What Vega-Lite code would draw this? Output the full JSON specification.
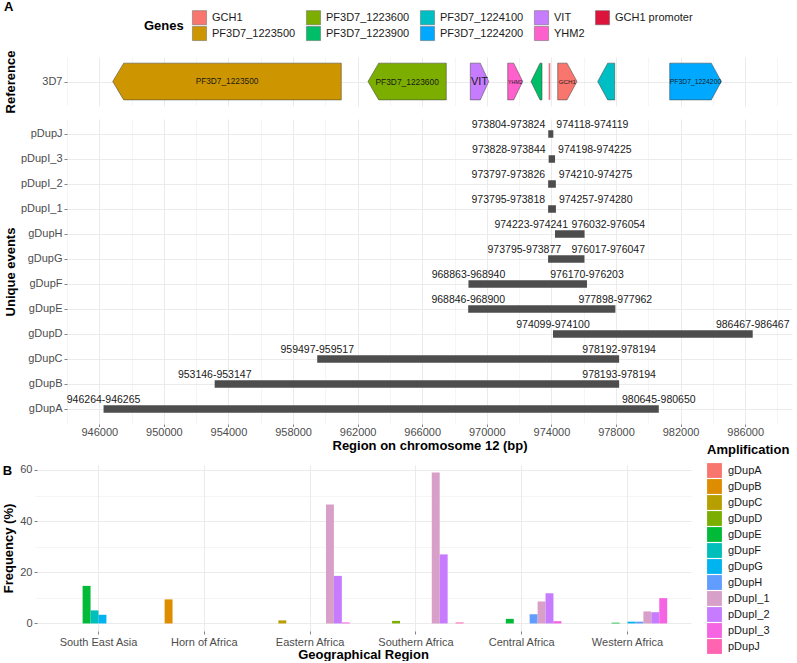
{
  "$schema": "https://vega.github.io/schema/vega-lite/v6.json",
  "padding": {"left": 2, "top": 1, "right": 2, "bottom": 0},
  "config": {
    "font": "Liberation Sans",
    "view": {"stroke": null},
    "axis": {"domain": false, "gridColor": "#EBEBEB", "tickColor": "#333333", "tickWidth": 0.6, "tickSize": 3, "labelFontSize": 11, "labelColor": "#4D4D4D", "titleFontSize": 13, "titleFontWeight": "bold", "titleColor": "#000000", "labelPadding": 2},
    "legend": {"labelFontSize": 11, "labelColor": "#1A1A1A", "titleFontSize": 13, "titleFontWeight": "bold", "titleColor": "#000000"},
    "title": {"fontSize": 13, "fontWeight": "bold", "color": "#000000"}
  },
  "datasets": {
    "geneShapes": [
      {"gene": "PF3D7_1223500", "bp": 946830, "top": 0, "bottom": 0},
      {"gene": "PF3D7_1223500", "bp": 947511, "top": 0.75, "bottom": -0.75},
      {"gene": "PF3D7_1223500", "bp": 960987, "top": 0.75, "bottom": -0.75},
      {"gene": "PF3D7_1223600", "bp": 962641, "top": 0, "bottom": 0},
      {"gene": "PF3D7_1223600", "bp": 963304, "top": 0.75, "bottom": -0.75},
      {"gene": "PF3D7_1223600", "bp": 967490, "top": 0.75, "bottom": -0.75},
      {"gene": "VIT", "bp": 968977, "top": 0.75, "bottom": -0.75},
      {"gene": "VIT", "bp": 969596, "top": 0.75, "bottom": -0.75},
      {"gene": "VIT", "bp": 970116, "top": 0, "bottom": 0},
      {"gene": "YHM2", "bp": 971293, "top": 0.75, "bottom": -0.75},
      {"gene": "YHM2", "bp": 971665, "top": 0.75, "bottom": -0.75},
      {"gene": "YHM2", "bp": 972222, "top": 0, "bottom": 0},
      {"gene": "PF3D7_1223900", "bp": 972736, "top": 0, "bottom": 0},
      {"gene": "PF3D7_1223900", "bp": 973293, "top": 0.75, "bottom": -0.75},
      {"gene": "PF3D7_1223900", "bp": 973417, "top": 0.75, "bottom": -0.75},
      {"gene": "GCH1", "bp": 974389, "top": 0.75, "bottom": -0.75},
      {"gene": "GCH1", "bp": 974965, "top": 0.75, "bottom": -0.75},
      {"gene": "GCH1", "bp": 975585, "top": 0, "bottom": 0},
      {"gene": "PF3D7_1224100", "bp": 976866, "top": 0, "bottom": 0},
      {"gene": "PF3D7_1224100", "bp": 977486, "top": 0.75, "bottom": -0.75},
      {"gene": "PF3D7_1224100", "bp": 977919, "top": 0.75, "bottom": -0.75},
      {"gene": "PF3D7_1224200", "bp": 981326, "top": 0.75, "bottom": -0.75},
      {"gene": "PF3D7_1224200", "bp": 983902, "top": 0.75, "bottom": -0.75},
      {"gene": "PF3D7_1224200", "bp": 984521, "top": 0, "bottom": 0}
    ],
    "geneLabels": [
      {"gene": "PF3D7_1223500", "mid": 953909},
      {"gene": "PF3D7_1223600", "mid": 965066},
      {"gene": "VIT", "mid": 969547},
      {"gene": "YHM2", "mid": 971758},
      {"gene": "GCH1", "mid": 974987},
      {"gene": "PF3D7_1224200", "mid": 982924}
    ],
    "promoter": [
      {"gene": "GCH1 promoter", "start": 973830, "end": 973930}
    ],
    "events": [
      {"event": "gDupA", "start": 946264, "end": 980650, "start_label": "946264-946265", "end_label": "980645-980650"},
      {"event": "gDupB", "start": 953146, "end": 978194, "start_label": "953146-953147", "end_label": "978193-978194"},
      {"event": "gDupC", "start": 959497, "end": 978194, "start_label": "959497-959517", "end_label": "978192-978194"},
      {"event": "gDupD", "start": 974099, "end": 986467, "start_label": "974099-974100", "end_label": "986467-986467"},
      {"event": "gDupE", "start": 968846, "end": 977962, "start_label": "968846-968900", "end_label": "977898-977962"},
      {"event": "gDupF", "start": 968863, "end": 976203, "start_label": "968863-968940", "end_label": "976170-976203"},
      {"event": "gDupG", "start": 973795, "end": 976047, "start_label": "973795-973877", "end_label": "976017-976047"},
      {"event": "gDupH", "start": 974223, "end": 976054, "start_label": "974223-974241", "end_label": "976032-976054"},
      {"event": "pDupI_1", "start": 973795, "end": 974280, "start_label": "973795-973818", "end_label": "974257-974280"},
      {"event": "pDupI_2", "start": 973797, "end": 974275, "start_label": "973797-973826", "end_label": "974210-974275"},
      {"event": "pDupI_3", "start": 973828, "end": 974225, "start_label": "973828-973844", "end_label": "974198-974225"},
      {"event": "pDupJ", "start": 973804, "end": 974119, "start_label": "973804-973824", "end_label": "974118-974119"}
    ],
    "freq": [
      {"region": "South East Asia", "amp": "gDupE", "freq": 14.7},
      {"region": "South East Asia", "amp": "gDupF", "freq": 5.1},
      {"region": "South East Asia", "amp": "gDupG", "freq": 3.4},
      {"region": "Horn of Africa", "amp": "gDupB", "freq": 9.4},
      {"region": "Eastern Africa", "amp": "gDupC", "freq": 1.2},
      {"region": "Eastern Africa", "amp": "pDupI_1", "freq": 46.5},
      {"region": "Eastern Africa", "amp": "pDupI_2", "freq": 18.6},
      {"region": "Eastern Africa", "amp": "pDupI_3", "freq": 0.4},
      {"region": "Southern Africa", "amp": "gDupD", "freq": 1.0},
      {"region": "Southern Africa", "amp": "pDupI_1", "freq": 59.0},
      {"region": "Southern Africa", "amp": "pDupI_2", "freq": 27.0},
      {"region": "Southern Africa", "amp": "pDupJ", "freq": 0.4},
      {"region": "Central Africa", "amp": "gDupE", "freq": 1.8},
      {"region": "Central Africa", "amp": "gDupH", "freq": 3.6},
      {"region": "Central Africa", "amp": "pDupI_1", "freq": 8.6},
      {"region": "Central Africa", "amp": "pDupI_2", "freq": 11.8},
      {"region": "Central Africa", "amp": "pDupI_3", "freq": 0.9},
      {"region": "Western Africa", "amp": "gDupE", "freq": 0.3},
      {"region": "Western Africa", "amp": "gDupG", "freq": 0.7},
      {"region": "Western Africa", "amp": "gDupH", "freq": 0.7},
      {"region": "Western Africa", "amp": "pDupI_1", "freq": 4.7},
      {"region": "Western Africa", "amp": "pDupI_2", "freq": 4.4},
      {"region": "Western Africa", "amp": "pDupI_3", "freq": 9.9}
    ]
  },
  "align": "none",
  "spacing": -9,
  "resolve": {"scale": {"fill": "independent", "size": "independent"}, "legend": {"fill": "independent", "size": "independent"}},
  "vconcat": [
    {
      "align": "each",
      "spacing": 6,
      "resolve": {"scale": {"fill": "independent", "size": "independent"}, "legend": {"fill": "independent", "size": "independent"}},
      "vconcat": [
        {
          "title": {"text": "A", "anchor": "start", "frame": "bounds", "offset": -4},
          "width": 725,
          "height": 49,
          "resolve": {"axis": {"x": "independent"}},
          "layer": [
            {
              "data": {"name": "geneShapes"},
              "mark": {"type": "area", "orient": "vertical", "stroke": "#3D3D3D", "strokeWidth": 0.5, "opacity": 1},
              "encoding": {
                "x": {"field": "bp", "type": "quantitative", "scale": {"domain": [944000, 988900], "nice": false, "zero": false},
                  "axis": {"values": [946000, 950000, 954000, 958000, 962000, 966000, 970000, 974000, 978000, 982000, 986000], "grid": true, "gridWidth": 1, "labels": false, "ticks": false, "title": null}},
                "y": {"field": "top", "type": "quantitative", "stack": null, "scale": {"domain": [-1, 1], "nice": false, "zero": false},
                  "axis": {"values": [0], "labelExpr": "'3D7'", "title": "Reference", "grid": true, "minExtent": 47, "titlePadding": 3}},
                "y2": {"field": "bottom"},
                "detail": {"field": "gene"},
                "fill": {"field": "gene", "type": "nominal",
                  "scale": {"domain": ["GCH1", "PF3D7_1223600", "PF3D7_1224100", "VIT", "GCH1 promoter", "PF3D7_1223500", "PF3D7_1223900", "PF3D7_1224200", "YHM2"],
                    "range": ["#F8766D", "#7CAE00", "#00BFC4", "#C77CFF", "#DC143C", "#CD9600", "#00BE67", "#00A9FF", "#FF61CC"]},
                  "legend": {"title": "Genes", "orient": "none", "legendX": 77, "legendY": -47, "direction": "horizontal", "columns": 5, "titleOrient": "left", "titleAnchor": "middle", "titleBaseline": "middle", "symbolType": "square", "symbolSize": 200, "symbolStrokeColor": "#666666", "symbolStrokeWidth": 0.5, "symbolOpacity": 1, "labelOffset": 5, "columnPadding": 9, "rowPadding": -2, "titlePadding": 8,
                    "encode": {"symbols": {"update": {"opacity": {"value": 1}, "fillOpacity": {"value": 1}}}}}}
              }
            },
            {
              "data": {"name": "promoter"},
              "mark": {"type": "rect", "fillOpacity": 0.6},
              "encoding": {
                "x": {"field": "start", "type": "quantitative", "scale": {"domain": [944000, 988900], "nice": false, "zero": false},
                  "axis": {"orient": "top", "values": [944000, 948000, 952000, 956000, 960000, 964000, 968000, 972000, 976000, 980000, 984000, 988000], "grid": true, "gridWidth": 0.5, "labels": false, "ticks": false, "domain": false, "title": null}},
                "x2": {"field": "end"},
                "y": {"datum": 0.75, "type": "quantitative"},
                "y2": {"datum": -0.75},
                "fill": {"field": "gene", "type": "nominal",
                  "scale": {"domain": ["GCH1", "PF3D7_1223600", "PF3D7_1224100", "VIT", "GCH1 promoter", "PF3D7_1223500", "PF3D7_1223900", "PF3D7_1224200", "YHM2"],
                    "range": ["#F8766D", "#7CAE00", "#00BFC4", "#C77CFF", "#DC143C", "#CD9600", "#00BE67", "#00A9FF", "#FF61CC"]}}
              }
            },
            {
              "data": {"name": "geneLabels"},
              "mark": {"type": "text", "color": "#1A1A1A", "baseline": "middle", "align": "center"},
              "encoding": {
                "x": {"field": "mid", "type": "quantitative", "scale": {"domain": [944000, 988900], "nice": false, "zero": false}, "axis": null},
                "y": {"datum": 0, "type": "quantitative"},
                "text": {"field": "gene"},
                "size": {"field": "gene", "type": "nominal", "scale": {"type": "ordinal", "domain": ["PF3D7_1223500", "PF3D7_1223600", "VIT", "YHM2", "GCH1", "PF3D7_1224200"], "range": [8.3, 8.4, 11, 5.2, 6.2, 6.8]}, "legend": null}
              }
            }
          ]
        },
        {
          "width": 725,
          "height": 305,
          "data": {"name": "events"},
          "resolve": {"axis": {"x": "independent"}},
          "encoding": {
            "y": {"field": "event", "type": "nominal",
              "scale": {"domain": ["pDupJ", "pDupI_3", "pDupI_2", "pDupI_1", "gDupH", "gDupG", "gDupF", "gDupE", "gDupD", "gDupC", "gDupB", "gDupA"], "paddingInner": 0, "paddingOuter": 0.1},
              "axis": {"title": "Unique events", "grid": true, "bandPosition": 0.5, "minExtent": 47, "titlePadding": 3}}
          },
          "layer": [
            {
              "mark": {"type": "bar", "color": "#4D4D4D", "height": 7.5},
              "encoding": {
                "x": {"field": "start", "type": "quantitative", "scale": {"domain": [944000, 988900], "nice": false, "zero": false},
                  "axis": {"values": [946000, 950000, 954000, 958000, 962000, 966000, 970000, 974000, 978000, 982000, 986000],
                    "format": "d", "labelOverlap": false, "labelFlush": false, "grid": true, "gridWidth": 1,
                    "title": "Region on chromosome 12 (bp)", "titlePadding": 2, "labelPadding": 0, "tickSize": 2.5}},
                "x2": {"field": "end"}
              }
            },
            {
              "transform": [{"filter": {"field": "event", "oneOf": ["gDupA", "gDupB", "gDupC", "gDupD", "gDupE", "gDupF"]}}],
              "mark": {"type": "text", "fontSize": 10.5, "color": "#1A1A1A", "dy": -9, "align": "center", "baseline": "middle"},
              "encoding": {"x": {"field": "start", "type": "quantitative", "scale": {"domain": [944000, 988900], "nice": false, "zero": false},
                  "axis": {"orient": "top", "values": [944000, 948000, 952000, 956000, 960000, 964000, 968000, 972000, 976000, 980000, 984000, 988000], "grid": true, "gridWidth": 0.5, "labels": false, "ticks": false, "domain": false, "title": null}},
                "text": {"field": "start_label"}}
            },
            {
              "transform": [{"filter": {"field": "event", "oneOf": ["gDupA", "gDupB", "gDupC", "gDupD", "gDupE", "gDupF"]}}],
              "mark": {"type": "text", "fontSize": 10.5, "color": "#1A1A1A", "dy": -9, "align": "center", "baseline": "middle"},
              "encoding": {"x": {"field": "end", "type": "quantitative", "scale": {"domain": [944000, 988900], "nice": false, "zero": false}, "axis": null}, "text": {"field": "end_label"}}
            },
            {
              "transform": [{"filter": {"field": "event", "oneOf": ["gDupG", "gDupH"]}}],
              "mark": {"type": "text", "fontSize": 10.5, "color": "#1A1A1A", "dy": -9, "dx": 13, "align": "right", "baseline": "middle"},
              "encoding": {"x": {"field": "start", "type": "quantitative", "scale": {"domain": [944000, 988900], "nice": false, "zero": false}, "axis": null}, "text": {"field": "start_label"}}
            },
            {
              "transform": [{"filter": {"field": "event", "oneOf": ["gDupG", "gDupH"]}}],
              "mark": {"type": "text", "fontSize": 10.5, "color": "#1A1A1A", "dy": -9, "dx": -13, "align": "left", "baseline": "middle"},
              "encoding": {"x": {"field": "end", "type": "quantitative", "scale": {"domain": [944000, 988900], "nice": false, "zero": false}, "axis": null}, "text": {"field": "end_label"}}
            },
            {
              "transform": [{"filter": {"field": "event", "oneOf": ["pDupI_1", "pDupI_2", "pDupI_3", "pDupJ"]}}],
              "mark": {"type": "text", "fontSize": 10.5, "color": "#1A1A1A", "dy": -9, "dx": -3, "align": "right", "baseline": "middle"},
              "encoding": {"x": {"field": "start", "type": "quantitative", "scale": {"domain": [944000, 988900], "nice": false, "zero": false}, "axis": null}, "text": {"field": "start_label"}}
            },
            {
              "transform": [{"filter": {"field": "event", "oneOf": ["pDupI_1", "pDupI_2", "pDupI_3", "pDupJ"]}}],
              "mark": {"type": "text", "fontSize": 10.5, "color": "#1A1A1A", "dy": -9, "dx": 3, "align": "left", "baseline": "middle"},
              "encoding": {"x": {"field": "end", "type": "quantitative", "scale": {"domain": [944000, 988900], "nice": false, "zero": false}, "axis": null}, "text": {"field": "end_label"}}
            }
          ]
        }
      ]
    },
    {
      "title": {"text": "B", "anchor": "start", "frame": "bounds", "offset": -34},
      "width": 626,
      "height": 166,
      "data": {"name": "freq"},
      "mark": {"type": "bar"},
      "encoding": {
        "x": {"field": "region", "type": "nominal",
          "scale": {"domain": ["South East Asia", "Horn of Africa", "Eastern Africa", "Southern Africa", "Central Africa", "Western Africa"], "paddingInner": 0.1, "paddingOuter": 0.15, "range": [-32, 624]},
          "axis": {"title": "Geographical Region", "labelAngle": 0, "grid": true, "bandPosition": 0.5, "titlePadding": 1, "titleX": 296, "titleAnchor": "middle"}},
        "xOffset": {"field": "amp", "type": "nominal", "scale": {"domain": ["gDupA", "gDupB", "gDupC", "gDupD", "gDupE", "gDupF", "gDupG", "gDupH", "pDupI_1", "pDupI_2", "pDupI_3", "pDupJ"], "paddingInner": 0, "paddingOuter": 0}},
        "y": {"field": "freq", "type": "quantitative", "scale": {"domain": [-2.95, 61.95], "nice": false, "zero": false},
          "axis": {"values": [0, 10, 20, 30, 40, 50, 60], "labelExpr": "datum.value % 20 === 0 ? datum.label : ''",
            "gridWidth": {"condition": {"test": "datum.value % 20 !== 0", "value": 0.5}, "value": 1},
            "tickOpacity": {"condition": {"test": "datum.value % 20 !== 0", "value": 0}, "value": 1},
            "labelOverlap": false, "labelFlush": false, "title": "Frequency (%)", "titlePadding": 4, "offset": 30}},
        "fill": {"field": "amp", "type": "nominal",
          "scale": {"domain": ["gDupA", "gDupB", "gDupC", "gDupD", "gDupE", "gDupF", "gDupG", "gDupH", "pDupI_1", "pDupI_2", "pDupI_3", "pDupJ"],
            "range": ["#F8766D", "#DE8C00", "#B79F00", "#7CAE00", "#00BA38", "#00BFBA", "#00B4F0", "#619CFF", "#D8A0C8", "#C77CFF", "#F564E3", "#FF64B0"]},
          "legend": {"title": "Amplification", "orient": "none", "legendX": 640, "legendY": -21, "symbolType": "square", "symbolSize": 220, "symbolStrokeWidth": 0, "symbolOpacity": 1, "rowPadding": 1, "labelOffset": 6, "titlePadding": 6}}
      }
    }
  ]
}
